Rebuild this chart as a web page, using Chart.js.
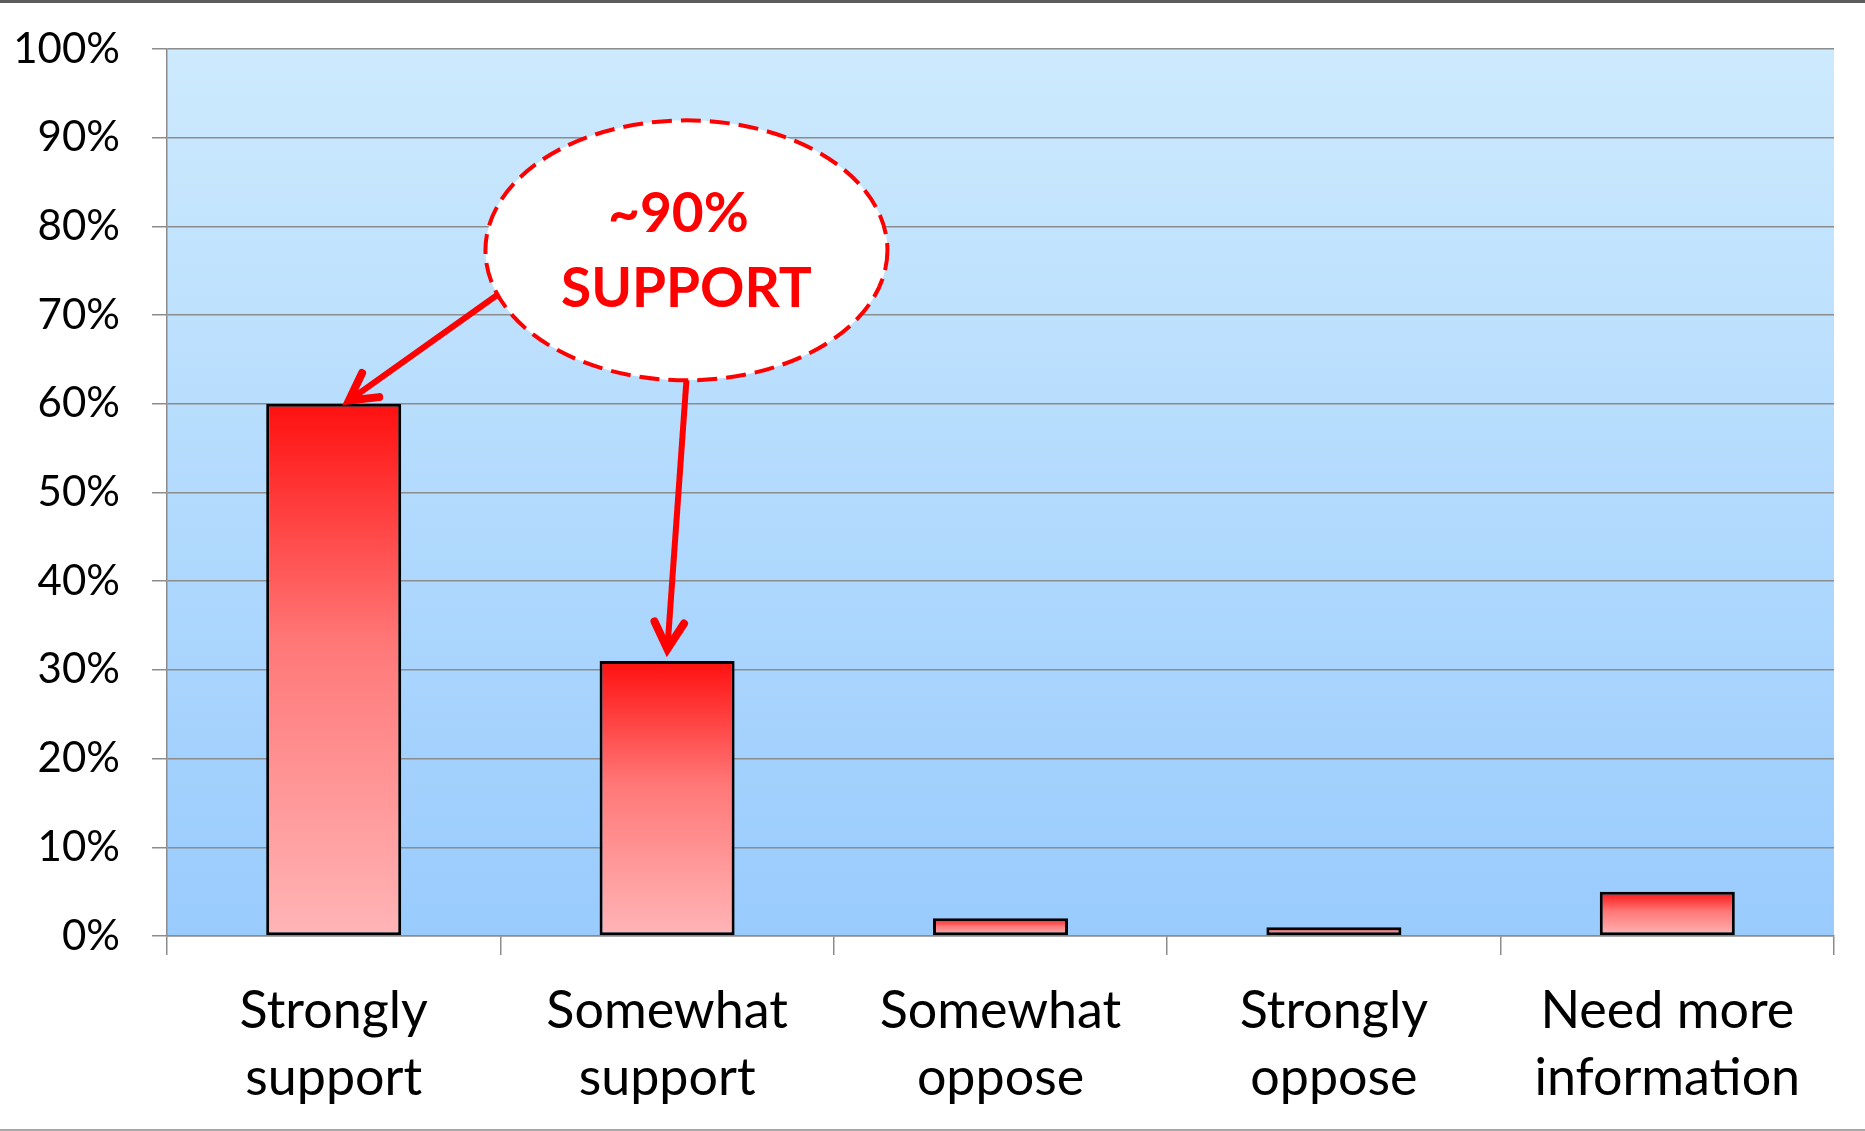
<!DOCTYPE html>
<html>
<head>
<meta charset="utf-8">
<script src="https://cdn.jsdelivr.net/npm/chart.js@4.4.1/dist/chart.umd.min.js"></script>
<style>
  html, body { margin: 0; padding: 0; background: #fff; overflow: hidden; }
  #wrap { width: 1865px; height: 1131px; }
</style>
</head>
<body>
<div id="wrap"><canvas id="chart" width="1865" height="1131"></canvas></div>
<script>
// survey answers, share of respondents in %
const categories = [
  ["Strongly", "support"],
  ["Somewhat", "support"],
  ["Somewhat", "oppose"],
  ["Strongly", "oppose"],
  ["Need more", "information"]
];
const shares = [60, 31, 2, 1, 5];
const yMax = 100;
const yStep = 10;
const calloutLines = ["~90%", "SUPPORT"];

const FONT = "Lato, 'Noto Sans', sans-serif";

// red-to-pink fill, one gradient per bar
function barFill(c) {
  const chart = c.chart;
  if (!chart.chartArea || c.type !== "data") return "#ff2020";
  const y = chart.scales.y;
  const top = y.getPixelForValue(c.raw);
  const bottom = y.getPixelForValue(0);
  const g = chart.ctx.createLinearGradient(0, top, 0, bottom);
  g.addColorStop(0, "#ff1010");
  g.addColorStop(0.45, "#ff7878");
  g.addColorStop(1, "#ffb5b7");
  return g;
}

const plotBackground = {
  id: "plotBackground",
  beforeDraw(chart) {
    const { ctx, chartArea: a, width, height } = chart;
    ctx.save();
    ctx.fillStyle = "#5c5c5c";
    ctx.fillRect(0, 0, width, 3);
    ctx.fillStyle = "#a8a8a8";
    ctx.fillRect(0, height - 2, width, 2);
    const g = ctx.createLinearGradient(0, a.top, 0, a.bottom);
    g.addColorStop(0, "#cdeafd");
    g.addColorStop(1, "#99cbfd");
    ctx.fillStyle = g;
    ctx.fillRect(a.left, a.top, a.right - a.left, a.bottom - a.top);
    ctx.restore();
  }
};

function arrow(ctx, x0, y0, x1, y1) {
  const ang = Math.atan2(y1 - y0, x1 - x0);
  const len = 34, spread = 0.45;
  ctx.lineWidth = 6;
  ctx.lineCap = "butt";
  ctx.beginPath();
  ctx.moveTo(x0, y0);
  ctx.lineTo(x1 - 4 * Math.cos(ang), y1 - 4 * Math.sin(ang));
  ctx.stroke();
  ctx.lineWidth = 8;
  ctx.lineCap = "round";
  ctx.lineJoin = "miter";
  ctx.beginPath();
  ctx.moveTo(x1 - len * Math.cos(ang - spread), y1 - len * Math.sin(ang - spread));
  ctx.lineTo(x1 - 4 * Math.cos(ang), y1 - 4 * Math.sin(ang));
  ctx.lineTo(x1 - len * Math.cos(ang + spread), y1 - len * Math.sin(ang + spread));
  ctx.stroke();
}

// dashed bubble with arrows to the two "support" bars
const callout = {
  id: "callout",
  afterDatasetsDraw(chart) {
    const { ctx, scales } = chart;
    const xs = scales.x, ys = scales.y;
    const step = xs.getPixelForValue(1) - xs.getPixelForValue(0);
    const cx = xs.getPixelForValue(0) + 1.058 * step;
    const cy = ys.getPixelForValue(77.3);
    const rx = 201, ry = 130;

    ctx.save();
    ctx.beginPath();
    ctx.ellipse(cx, cy, rx, ry, 0, 0, Math.PI * 2);
    ctx.fillStyle = "#ffffff";
    ctx.fill();
    ctx.setLineDash([20, 9]);
    ctx.lineWidth = 4;
    ctx.strokeStyle = "#ff0000";
    ctx.stroke();
    ctx.setLineDash([]);

    ctx.fillStyle = "#ff0000";
    ctx.font = "bold 55px " + FONT;
    ctx.textAlign = "center";
    ctx.textBaseline = "middle";
    ctx.fillText(calloutLines[0], cx - 8, cy - 36);
    ctx.fillText(calloutLines[1], cx, cy + 39);

    const t1 = 160 * Math.PI / 180, t2 = 90 * Math.PI / 180;
    arrow(ctx, cx + rx * Math.cos(t1), cy + ry * Math.sin(t1),
      xs.getPixelForValue(0) + 12, ys.getPixelForValue(shares[0]) - 1);
    arrow(ctx, cx + rx * Math.cos(t2), cy + ry * Math.sin(t2),
      xs.getPixelForValue(1), ys.getPixelForValue(shares[1]) - 8);
    ctx.restore();
  }
};

new Chart(document.getElementById("chart"), {
  type: "bar",
  data: {
    labels: categories,
    datasets: [{
      data: shares,
      backgroundColor: barFill,
      borderColor: "#000",
      borderWidth: 3,
      borderSkipped: false,
      categoryPercentage: 1,
      barPercentage: 0.405
    }]
  },
  options: {
    responsive: false,
    animation: false,
    devicePixelRatio: 1,
    layout: { padding: { top: 49, right: 31, bottom: 0, left: 0 } },
    plugins: { legend: { display: false }, tooltip: { enabled: false } },
    scales: {
      x: {
        afterFit(s) { s.height = 195; },
        grid: { drawOnChartArea: false, drawTicks: true, tickLength: 19, color: "#8c8c8c", lineWidth: 1.5 },
        border: { color: "#8c8c8c", width: 1.5 },
        ticks: {
          color: "#000",
          font: { family: FONT, size: 52, lineHeight: 1.3 },
          padding: 22,
          maxRotation: 0,
          autoSkip: false
        }
      },
      y: {
        min: 0,
        max: yMax,
        // fixed width; the big label gap should not push the plot down
        afterFit(s) { s.width = 167; s.paddingTop = 0; s.paddingBottom = 0; },
        grid: { color: "#8c8c8c", lineWidth: 1.5, tickLength: 15 },
        border: { color: "#8c8c8c", width: 1.5 },
        ticks: {
          stepSize: yStep,
          color: "#000",
          font: { family: FONT, size: 42 },
          padding: 32,
          callback: (v) => v + "%"
        }
      }
    }
  },
  plugins: [plotBackground, callout]
});
</script>
</body>
</html>
